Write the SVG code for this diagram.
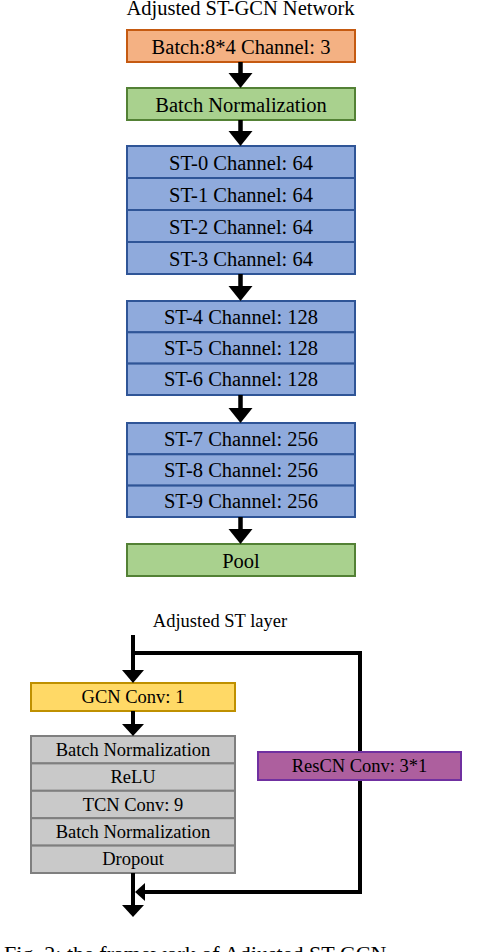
<svg xmlns="http://www.w3.org/2000/svg" width="484" height="952" viewBox="0 0 484 952">
<style>
text{font-family:"Liberation Serif","Times New Roman",serif;fill:#000;text-anchor:middle}
.t20{font-size:20.5px}
.t18{font-size:18.5px}
.or{fill:#F4B183;stroke:#C55A11;stroke-width:2}
.gr{fill:#A9D18E;stroke:#538135;stroke-width:2}
.bl{fill:#8FAADC;stroke:#2F5597;stroke-width:2}
.ye{fill:#FFD966;stroke:#BF9000;stroke-width:2}
.gy{fill:#C9C9C9;stroke:#7F7F7F;stroke-width:2}
.pu{fill:#AD5F9E;stroke:#7030A0;stroke-width:2}
.ln{fill:none;stroke:#000;stroke-width:4.5}
.ln2{fill:none;stroke:#000;stroke-width:4}
.ah{fill:#000}
</style>
<rect width="484" height="952" fill="#fff"/>
<text class="t20" x="240.5" y="15">Adjusted ST-GCN Network</text>

<g id="input"><rect class="or" x="127" y="30" width="228" height="32"/><text class="t20" x="241" y="54">Batch:8*4 Channel: 3</text></g>
<g id="bn"><rect class="gr" x="127" y="88" width="228" height="32"/><text class="t20" x="241" y="112">Batch Normalization</text></g>
<g id="st0-3">
<rect class="bl" x="127" y="146" width="228" height="32"/><text class="t20" x="241" y="170">ST-0 Channel: 64</text>
<rect class="bl" x="127" y="178" width="228" height="32"/><text class="t20" x="241" y="202">ST-1 Channel: 64</text>
<rect class="bl" x="127" y="210" width="228" height="32"/><text class="t20" x="241" y="234">ST-2 Channel: 64</text>
<rect class="bl" x="127" y="242" width="228" height="32"/><text class="t20" x="241" y="266">ST-3 Channel: 64</text>
</g>
<g id="st4-6">
<rect class="bl" x="127" y="301" width="228" height="31.3"/><text class="t20" x="241" y="324">ST-4 Channel: 128</text>
<rect class="bl" x="127" y="332.3" width="228" height="31.3"/><text class="t20" x="241" y="355">ST-5 Channel: 128</text>
<rect class="bl" x="127" y="363.6" width="228" height="31.4"/><text class="t20" x="241" y="386">ST-6 Channel: 128</text>
</g>
<g id="st7-9">
<rect class="bl" x="127" y="423" width="228" height="31.3"/><text class="t20" x="241" y="446">ST-7 Channel: 256</text>
<rect class="bl" x="127" y="454.3" width="228" height="31.3"/><text class="t20" x="241" y="477">ST-8 Channel: 256</text>
<rect class="bl" x="127" y="485.6" width="228" height="31.4"/><text class="t20" x="241" y="508">ST-9 Channel: 256</text>
</g>
<g id="pool"><rect class="gr" x="127" y="544" width="228" height="32"/><text class="t20" x="241" y="568">Pool</text></g>

<text class="t18" x="220" y="627">Adjusted ST layer</text>
<g id="gcn"><rect class="ye" x="31" y="683" width="204" height="28"/><text class="t18" x="133" y="703">GCN Conv: 1</text></g>
<g id="tcn">
<rect class="gy" x="31" y="736" width="204" height="27.4"/><text class="t18" x="133" y="756">Batch Normalization</text>
<rect class="gy" x="31" y="763.4" width="204" height="27.4"/><text class="t18" x="133" y="783">ReLU</text>
<rect class="gy" x="31" y="790.8" width="204" height="27.4"/><text class="t18" x="133" y="811">TCN Conv: 9</text>
<rect class="gy" x="31" y="818.2" width="204" height="27.4"/><text class="t18" x="133" y="838">Batch Normalization</text>
<rect class="gy" x="31" y="845.6" width="204" height="27.4"/><text class="t18" x="133" y="865">Dropout</text>
</g>

<g id="connectors">
<line class="ln" x1="240.5" y1="62" x2="240.5" y2="75"/><path class="ah" d="M228.5,73 H252.5 L240.5,88 Z"/>
<line class="ln" x1="240.5" y1="120" x2="240.5" y2="133"/><path class="ah" d="M228.5,131 H252.5 L240.5,146 Z"/>
<line class="ln" x1="240.5" y1="274" x2="240.5" y2="288"/><path class="ah" d="M228.5,286 H252.5 L240.5,301 Z"/>
<line class="ln" x1="240.5" y1="395" x2="240.5" y2="410"/><path class="ah" d="M228.5,408 H252.5 L240.5,423 Z"/>
<line class="ln" x1="240.5" y1="517" x2="240.5" y2="531"/><path class="ah" d="M228.5,529 H252.5 L240.5,544 Z"/>

<line class="ln2" x1="133" y1="635" x2="133" y2="672"/><path class="ah" d="M122,670 H144 L133,683 Z"/>
<polyline class="ln2" points="133,653 360,653 360,892 143,892"/>
<line class="ln2" x1="133" y1="711" x2="133" y2="726"/><path class="ah" d="M122,724 H144 L133,736 Z"/>
<line class="ln2" x1="133" y1="873" x2="133" y2="907"/><path class="ah" d="M122,905 H144 L133,917 Z"/>
<path class="ah" d="M145,883 V901 L135,892 Z"/>
</g>
<g id="rescn"><rect class="pu" x="258" y="752" width="203" height="28"/><text class="t18" x="359.5" y="772">ResCN Conv: 3*1</text></g>

<text x="4" y="961" style="font-size:22px;text-anchor:start">Fig. 2: the framework of Adjusted ST-GCN</text>
</svg>
